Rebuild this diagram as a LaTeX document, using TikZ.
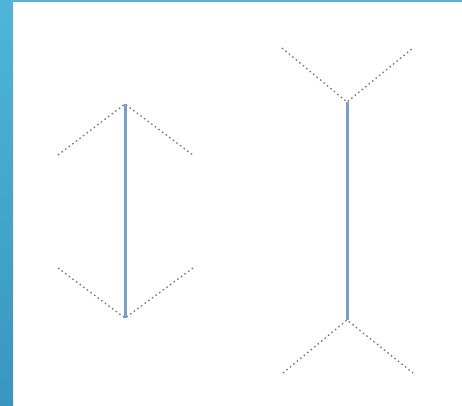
\documentclass[tikz,border=0pt]{standalone}
\definecolor{bartop}{RGB}{78,182,216}
\definecolor{barbot}{RGB}{56,150,192}
\definecolor{shaftc}{RGB}{122,158,206}
\begin{document}
\begin{tikzpicture}[x=1pt,y=-1pt,
  shaft/.style={draw=shaftc, line width=3pt},
  fin/.style={draw=black!55, line width=1.3pt, dash pattern=on 1.5pt off 3pt}]
\useasboundingbox (0,0) rectangle (462,405);
\shade[top color=bartop, bottom color=barbot] (0,0) rectangle (13,405);
\fill[bartop] (0,0) rectangle (462,2);
% left figure
\coordinate (lt) at (125,104);
\coordinate (lb) at (125,318);
\coordinate (ltl) at (58,155);
\coordinate (ltr) at (193,155);
\coordinate (lbl) at (58,268);
\coordinate (lbr) at (193,268);
\draw[fin] (ltl) -- (lt) -- (ltr);
\draw[fin] (lbl) -- (lb) -- (lbr);
\draw[shaft] (lt) -- (lb);
% right figure
\coordinate (rt) at (347,102);
\coordinate (rb) at (347,320);
\coordinate (rtl) at (282,48);
\coordinate (rtr) at (413,48);
\coordinate (rbl) at (283,373);
\coordinate (rbr) at (413,373);
\draw[fin] (rtl) -- (rt) -- (rtr);
\draw[fin] (rbl) -- (rb) -- (rbr);
\draw[shaft] (rt) -- (rb);
\end{tikzpicture}
\end{document}
